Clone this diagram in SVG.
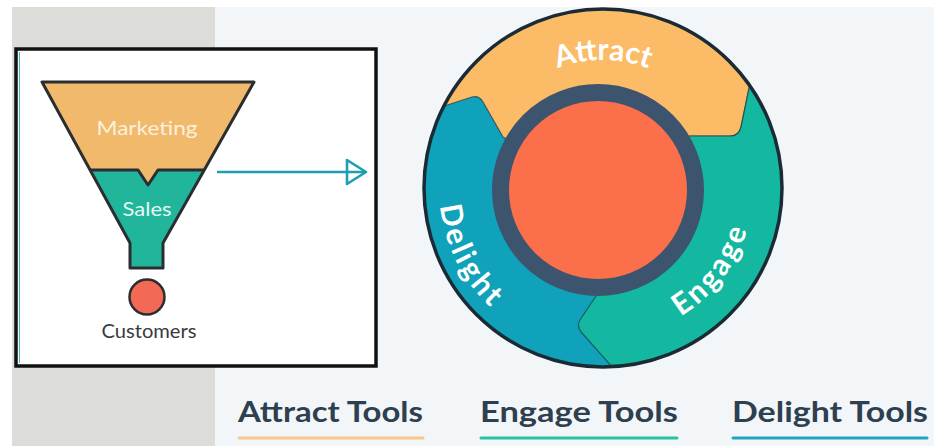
<svg xmlns="http://www.w3.org/2000/svg" width="934" height="446" viewBox="0 0 934 446">
  <style>
    .outline { fill: none; stroke: #2b2e30; stroke-width: 3; stroke-linejoin: round; }
    .funnel-text { font-family: "Lato", "Liberation Sans", sans-serif; font-size: 20px; text-anchor: middle; }
    .wheel-label { font-family: "Lato", "Liberation Sans", sans-serif; font-size: 30px; font-weight: 700; fill: #ffffff; }
    .tool-label { font-family: "Lato", "Liberation Sans", sans-serif; font-size: 29px; font-weight: 700; fill: #2e3f4f; }
    .tool-line { stroke-width: 3; stroke-linecap: round; }
    .seam { stroke: #1d3944; stroke-width: 1.2; stroke-opacity: 0.7; stroke-linejoin: round; }
  </style>
  <defs>
    <marker id="open-head" viewBox="0 0 24 28" refX="22" refY="14" markerWidth="24" markerHeight="28" markerUnits="userSpaceOnUse" orient="auto">
      <path d="M3,2 L22,14 L3,26 Z" fill="none" stroke="#1d9fb2" stroke-width="2.6" stroke-linejoin="round"/>
    </marker>
    <clipPath id="wheel-clip">
      <circle cx="603" cy="188" r="179"/>
    </clipPath>
    <path id="attract-arc" d="M475,188 A128,128 0 0 1 731,188"/>
    <path id="delight-arc" d="M467.1,99.8 A160,160 0 0 0 594.5,349.8"/>
    <path id="engage-arc" d="M584.7,336.9 A150,150 0 0 0 741.1,129.4"/>
  </defs>

  <!-- backdrop -->
  <rect x="0" y="0" width="934" height="446" fill="#ffffff"/>
  <rect x="12" y="7" width="204" height="439" fill="#dcdcd8"/>
  <rect x="215" y="7" width="719" height="439" fill="#f2f6f9"/>

  <!-- funnel card -->
  <g id="funnel-card">
    <rect x="16" y="49" width="360" height="317" fill="#ffffff" stroke="#111111" stroke-width="3.5"/>
    <line x1="19.5" y1="52" x2="19.5" y2="363" stroke="#3cc0b0" stroke-width="1"/>
  </g>

  <g id="marketing">
    <path d="M42,82 L254,82 L204,170 L158,170 L148,185 L138,170 L90,170 Z" fill="#f0b96c"/>
    <text class="funnel-text" x="147" y="135" fill="#fdf0dc" textLength="101" lengthAdjust="spacingAndGlyphs">Marketing</text>
  </g>

  <g id="sales">
    <path d="M90,170 L138,170 L148,185 L158,170 L204,170 L163,243 L163,268 L130,268 L130,243 Z" fill="#21b59c"/>
    <text class="funnel-text" x="147" y="216" fill="#e6f7f3" textLength="49" lengthAdjust="spacingAndGlyphs">Sales</text>
  </g>

  <g id="funnel-outline">
    <path class="outline" d="M42,82 L254,82 L163,243 L163,268 L130,268 L130,243 Z"/>
    <path class="outline" d="M90,170 L138,170 L148,185 L158,170 L204,170"/>
  </g>

  <g id="customers">
    <circle cx="147" cy="297" r="17.5" fill="#f26a55" stroke="#2b2e30" stroke-width="2.5"/>
    <text class="funnel-text" x="149" y="338" fill="#3a3a3a" textLength="95" lengthAdjust="spacingAndGlyphs">Customers</text>
  </g>

  <!-- connectors -->
  <g id="connectors">
    <line x1="217" y1="172" x2="366" y2="172" stroke="#1d9fb2" stroke-width="2.5" marker-end="url(#open-head)"/>
  </g>

  <!-- flywheel -->
  <g id="flywheel">
    <g clip-path="url(#wheel-clip)">
      <circle id="delight-band" cx="603" cy="188" r="180" fill="#10a2ba"/>
      <path id="attract-band" class="seam" fill="#fbbb67"
            d="M598,190 L503,137 L483,102 Q479,95 472,97 L438,108 L400,117 L380,-20 L820,-20 L820,60 L754,64 L741,127 Q739,136 730,136 L690,136 Z"/>
      <path id="engage-band" class="seam" fill="#14b8a0"
            d="M598,190 L690,136 L730,136 Q739,136 741,127 L754,64 L840,40 L840,450 L640,450 L622,378 L582,333 Q576,326 580,320 L600,290 Z"/>
    </g>
    <circle cx="603" cy="188" r="179" fill="none" stroke="#1b2b36" stroke-width="3.5"/>
    <circle id="core" cx="598" cy="190" r="97.5" fill="#fc6f4b" stroke="#3c546e" stroke-width="17"/>
  </g>

  <g id="attract-label">
    <text class="wheel-label"><textPath href="#attract-arc" startOffset="50%" text-anchor="middle">Attract</textPath></text>
  </g>
  <g id="delight-label">
    <text class="wheel-label" letter-spacing="3"><textPath href="#delight-arc" startOffset="50%" text-anchor="middle">Delight</textPath></text>
  </g>
  <g id="engage-label">
    <text class="wheel-label" letter-spacing="3"><textPath href="#engage-arc" startOffset="50%" text-anchor="middle">Engage</textPath></text>
  </g>

  <!-- tool headings -->
  <g id="attract-tools">
    <text class="tool-label" x="238" y="422" textLength="185" lengthAdjust="spacingAndGlyphs">Attract Tools</text>
    <line class="tool-line" x1="239" y1="438" x2="423" y2="438" stroke="#f6c88a"/>
  </g>
  <g id="engage-tools">
    <text class="tool-label" x="480" y="422" textLength="198" lengthAdjust="spacingAndGlyphs">Engage Tools</text>
    <line class="tool-line" x1="481" y1="438" x2="677" y2="438" stroke="#2dbfa4"/>
  </g>
  <g id="delight-tools">
    <text class="tool-label" x="732" y="422" textLength="196" lengthAdjust="spacingAndGlyphs">Delight Tools</text>
    <line class="tool-line" x1="733" y1="438" x2="927" y2="438" stroke="#23a3c0"/>
  </g>
</svg>
